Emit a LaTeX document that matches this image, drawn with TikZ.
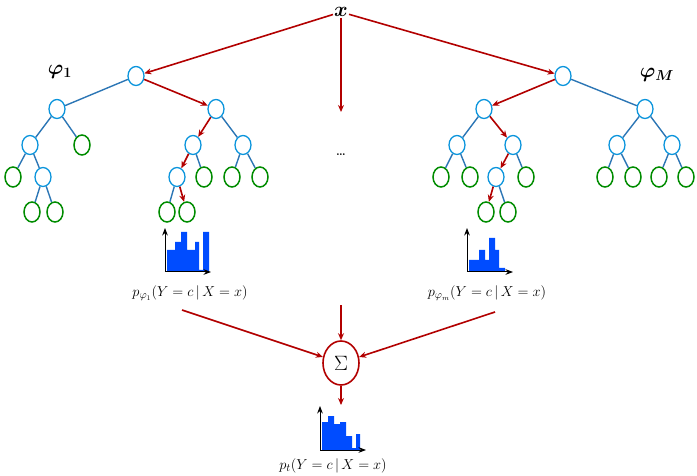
\documentclass[tikz,border=0pt]{standalone}
\usepackage{amsmath,bm}
\usetikzlibrary{arrows.meta,shapes.geometric}
\begin{document}
\begin{tikzpicture}[x=1pt,y=-1pt,
 inn/.style={draw=cyan!80!blue,line width=1.3pt,ellipse,minimum width=16pt,minimum height=19pt,inner sep=0},
 lf/.style={draw=green!55!black,line width=1.5pt,ellipse,minimum width=16pt,minimum height=20pt,inner sep=0},
 ed/.style={draw=cyan!60!blue!85!black,line width=1.4pt},
 rd/.style={draw=red!70!black,line width=1.6pt,-{Stealth[length=7pt,width=6pt]}},
 lab/.style={font=\fontsize{15}{17}\selectfont}]
\useasboundingbox (0,0) rectangle (697,476);
% left tree
\foreach \n/\x/\y in {rL/136/76,A/57/109,B/216/109,A1/30/145,A1b/43/177,B1/193/145,B2/243/145,B1a/177/177}
  \node[inn] (\n) at (\x,\y) {};
\foreach \n/\x/\y in {A2/82/145,l1/13/177,l2/32/212,l3/55/212,l4/167/212,l5/187/212,l6/204/177,l7/232/177,l8/260/177}
  \node[lf] (\n) at (\x,\y) {};
\draw[ed] (rL)--(A) (A)--(A1) (A)--(A2) (A1)--(l1) (A1)--(A1b) (A1b)--(l2) (A1b)--(l3)
 (B1)--(l6) (B)--(B2) (B2)--(l7) (B2)--(l8) (B1a)--(l4);
\draw[rd] (rL)--(B); \draw[rd] (B)--(B1); \draw[rd] (B1)--(B1a); \draw[rd] (B1a)--(l5);
% right tree
\foreach \n/\x/\y in {rR/563/76,C/484/109,D/645/109,C1/457/145,C2/513/145,C2a/496/177,D1/617/145,D2/672/145}
  \node[inn] (\n) at (\x,\y) {};
\foreach \n/\x/\y in {m1/441/177,m2/470/177,m3/526/177,m4/486/212,m5/508/212,m6/605/177,m7/633/177,m8/659/177,m9/686/177}
  \node[lf] (\n) at (\x,\y) {};
\draw[ed] (rR)--(D) (C)--(C1) (C1)--(m1) (C1)--(m2) (C2)--(m3) (C2a)--(m5)
 (D)--(D1) (D)--(D2) (D1)--(m6) (D1)--(m7) (D2)--(m8) (D2)--(m9);
\draw[rd] (rR)--(C); \draw[rd] (C)--(C2); \draw[rd] (C2)--(C2a); \draw[rd] (C2a)--(m4);
\node[font=\fontsize{20}{22}\selectfont] (f1) at (60,72) {$\bm{\varphi_1}$};
\node[font=\fontsize{20}{22}\selectfont] (fM) at (657,75) {$\bm{\varphi_M}$};
% top
\node[font=\fontsize{22}{24}\selectfont,inner sep=1pt] (x) at (341,12) {$\bm{x}$};
\coordinate (mid) at (341,112);
\draw[rd] (x)--(rL); \draw[rd] (x)--(rR); \draw[rd] (x)--(mid);
\node[font=\large] (dots) at (341,155) {\textbf{\dots}};
% histograms
\newcommand{\myhist}[3]{%
 \begin{scope}[shift={(#1,#2)}]
 \fill[blue!70!cyan] (2,0) #3 -- cycle;
 \draw[->,line width=1pt,>=Stealth] (0,0)--(46,0);
 \draw[->,line width=1pt,>=Stealth] (0,0)--(0,-44);
 \end{scope}}
\myhist{165}{272}{-- (2,-22) -- (10,-22) -- (10,-30) -- (16,-30) -- (16,-40) -- (22,-40) -- (22,-22) -- (30,-22) -- (30,-30) -- (34,-30) -- (34,-2) -- (38,-2) -- (38,-40) -- (44,-40) -- (44,0)}
\myhist{467}{272}{-- (2,-12) -- (12,-12) -- (12,-22) -- (18,-22) -- (18,-12) -- (22,-12) -- (22,-34) -- (28,-34) -- (28,-22) -- (32,-22) -- (32,-4) -- (38,-4) -- (38,0)}
\myhist{320}{450}{-- (2,-28) -- (8,-28) -- (8,-34) -- (14,-34) -- (14,-26) -- (20,-26) -- (20,-28) -- (26,-28) -- (26,-14) -- (32,-14) -- (32,-2) -- (36,-2) -- (36,-16) -- (40,-16) -- (40,0)}
\node[lab] (pL) at (190,293) {$p_{\varphi_1}(Y=c\,|\,X=x)$};
\node[lab] (pR) at (487,293) {$p_{\varphi_m}(Y=c\,|\,X=x)$};
\node[lab] (pT) at (333,466) {$p_t(Y=c\,|\,X=x)$};
% sum
\node[draw=red!70!black,line width=1.6pt,ellipse,minimum width=36pt,minimum height=44pt,inner sep=0,font=\fontsize{20}{22}\selectfont] (S) at (341,363) {$\Sigma$};
\coordinate (a1) at (182,310); \coordinate (a2) at (341,305); \coordinate (a3) at (495,312); \coordinate (a4) at (341,405);
\draw[rd] (a1)--(S); \draw[rd] (a2)--(S); \draw[rd] (a3)--(S); \draw[rd] (S)--(a4);
\end{tikzpicture}
\end{document}
